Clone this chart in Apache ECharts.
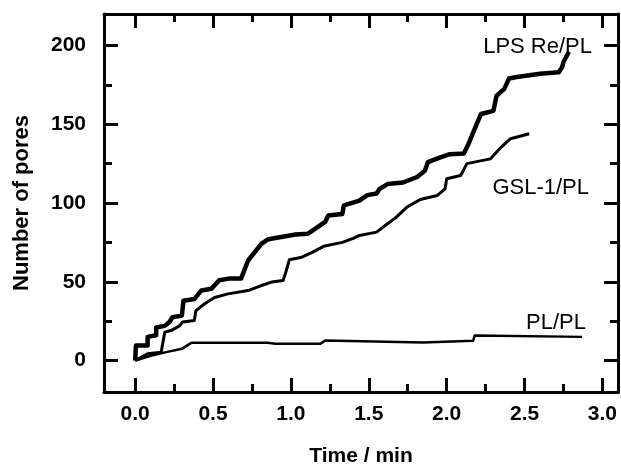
<!DOCTYPE html>
<html>
<head>
<meta charset="utf-8">
<script src="https://cdn.jsdelivr.net/npm/echarts@6/dist/echarts.min.js"></script>
<style>
html,body{margin:0;padding:0;background:#fff;}
#c{width:621px;height:469px;}
</style>
</head>
<body>
<div id="c"></div>
<script>
// ---- data (time in min, number of pores) ----
const lpsT = [0,0.005,0.08,0.08,0.135,0.135,0.19,0.22,0.24,0.30,0.31,0.38,0.425,0.49,0.54,0.60,0.68,0.725,0.81,0.855,1.03,1.11,1.155,1.22,1.24,1.33,1.34,1.44,1.49,1.55,1.57,1.62,1.72,1.81,1.86,1.88,1.96,2.02,2.11,2.14,2.18,2.22,2.30,2.32,2.37,2.40,2.45,2.60,2.72,2.74,2.75,2.785];
const lpsV = [0,9.5,9.5,15,16,21,22,24.5,27.5,28.5,38,39,44.5,45.5,51,52,52,63.5,74,77,80,80.5,83.5,88,92,93,98.5,101.5,105,106,109,112,113,116.5,120.5,126,129,131,131.5,137.5,147,156.5,158.5,168,172.5,179,180,182,183,186,189.5,196];

const gslT = [0,0.08,0.167,0.19,0.23,0.285,0.305,0.38,0.39,0.446,0.51,0.596,0.725,0.81,0.876,0.95,0.97,0.99,1.07,1.14,1.21,1.33,1.40,1.44,1.55,1.62,1.67,1.745,1.83,1.94,1.99,2.0,2.09,2.13,2.28,2.35,2.41,2.53];
const gslV = [0,4.3,5.3,18,19,22,24.4,25.4,31.7,36,40,42.3,44.4,47.6,49.8,50.8,57,64,65.6,68.8,72.5,75,77.5,79.4,81.5,86.8,90.4,97.4,102.2,104.8,109,115.4,117.5,125,128,135.5,140.8,144];

const plT = [0,0.1,0.2,0.3,0.36,0.85,0.9,1.19,1.22,1.85,2.17,2.18,2.87];
const plV = [0,3,5.3,7.4,11.2,11.2,10.6,10.6,12.7,11.5,12.5,15.9,15];

const seriesNames = ['LPS Re/PL','GSL-1/PL','PL/PL'];

// ---- tick labels ----
const xMajor = [0,0.5,1,1.5,2,2.5,3];
const xMinor = [0.25,0.75,1.25,1.75,2.25,2.75];
const yMajor = [0,50,100,150,200];
const yMinor = [25,75,125,175];

const FONT = '"Liberation Sans", Arial, Helvetica, sans-serif';
const pairs = (t, v) => t.map((x, i) => [x, v[i]]);

function axis(dim, pos, ticks, len, showLine, label, extra) {
  const base = {
    type: 'value', gridIndex: 0, position: pos,
    min: dim === 'x' ? -0.2 : -20,
    max: dim === 'x' ? 3.1 : 220,
    splitLine: { show: false },
    axisLine: { show: showLine, onZero: false, lineStyle: { color: '#000', width: 3 } },
    axisTick: { show: true, inside: true, length: len, customValues: ticks, lineStyle: { color: '#000', width: 3 } },
    axisLabel: label ? {
      show: true, customValues: ticks, color: '#000', fontSize: 21, fontWeight: 'bold', fontFamily: FONT,
      margin: dim === 'x' ? 12 : 18,
      formatter: dim === 'x' ? (v => Number(v).toFixed(1)) : (v => String(v))
    } : { show: false },
    axisPointer: { show: false }
  };
  return Object.assign(base, extra || {});
}

const chart = echarts.init(document.getElementById('c'), null, { renderer: 'canvas' });
chart.setOption({
  animation: false,
  backgroundColor: '#fff',
  grid: { left: 104, right: 3, top: 14, bottom: 77, containLabel: false, outerBoundsMode: 'none' },
  xAxis: [
    axis('x', 'bottom', xMajor, 14, true, true, {
      name: 'Time / min', nameLocation: 'middle', nameGap: 54,
      nameTextStyle: { color: '#000', fontSize: 21, fontWeight: 'bold', fontFamily: FONT }
    }),
    axis('x', 'bottom', xMinor, 8, false, false),
    axis('x', 'top', xMajor, 14, true, false),
    axis('x', 'top', xMinor, 8, false, false)
  ],
  yAxis: [
    axis('y', 'left', yMajor, 14, true, true, {
      name: 'Number of pores', nameLocation: 'middle', nameGap: 71,
      nameTextStyle: { color: '#000', fontSize: 22, fontWeight: 'bold', fontFamily: FONT }
    }),
    axis('y', 'left', yMinor, 8, false, false),
    axis('y', 'right', yMajor, 14, true, false),
    axis('y', 'right', yMinor, 8, false, false)
  ],
  series: [
    { name: seriesNames[0], type: 'line', data: pairs(lpsT, lpsV), showSymbol: false, symbol: 'none',
      lineStyle: { color: '#000', width: 4.5, join: 'round' }, xAxisIndex: 0, yAxisIndex: 0 },
    { name: seriesNames[1], type: 'line', data: pairs(gslT, gslV), showSymbol: false, symbol: 'none',
      lineStyle: { color: '#000', width: 3, join: 'round' }, xAxisIndex: 0, yAxisIndex: 0 },
    { name: seriesNames[2], type: 'line', data: pairs(plT, plV), showSymbol: false, symbol: 'none',
      lineStyle: { color: '#000', width: 2.5, join: 'round' }, xAxisIndex: 0, yAxisIndex: 0 }
  ],
  graphic: [
    { type: 'text', x: 592, y: 47, style: { text: seriesNames[0], font: '22px ' + FONT, fill: '#000', align: 'right', verticalAlign: 'middle' } },
    { type: 'text', x: 589, y: 188, style: { text: seriesNames[1], font: '22px ' + FONT, fill: '#000', align: 'right', verticalAlign: 'middle' } },
    { type: 'text', x: 586, y: 323, style: { text: seriesNames[2], font: '22px ' + FONT, fill: '#000', align: 'right', verticalAlign: 'middle' } }
  ]
});
</script>
</body>
</html>
